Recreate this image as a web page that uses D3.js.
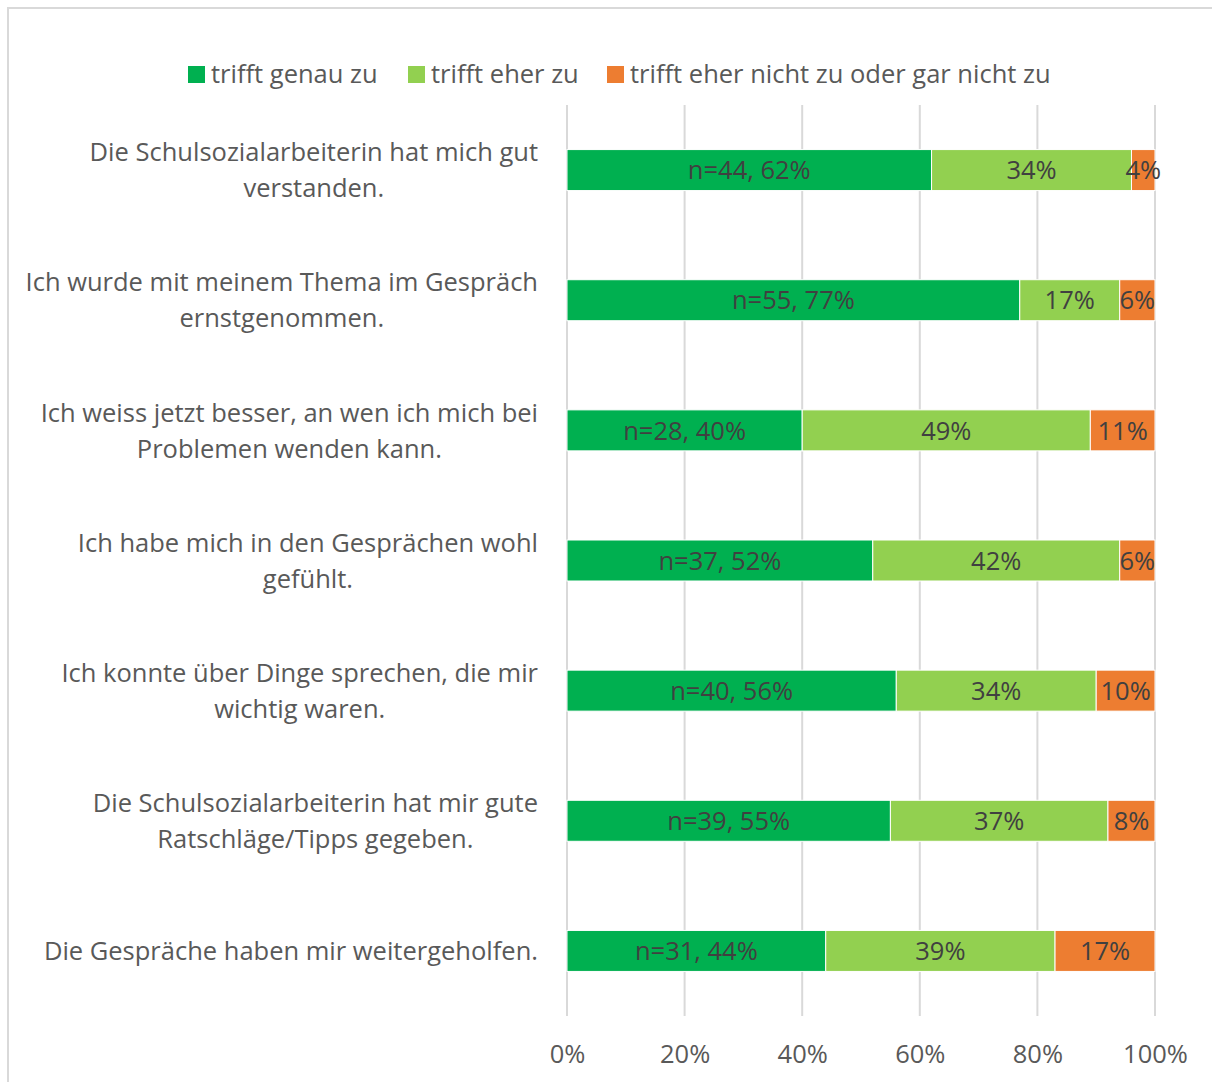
<!DOCTYPE html>
<html><head><meta charset="utf-8">
<script src="https://cdn.jsdelivr.net/npm/d3@7"></script>
<style>body{margin:0;background:#fff;}svg{display:block;font-family:"Open Sans",Lato,sans-serif;}</style>
</head><body>
<script>
const categories = [
  ["Die Schulsozialarbeiterin hat mich gut", "verstanden."],
  ["Ich wurde mit meinem Thema im Gespräch", "ernstgenommen."],
  ["Ich weiss jetzt besser, an wen ich mich bei", "Problemen wenden kann."],
  ["Ich habe mich in den Gesprächen wohl", "gefühlt."],
  ["Ich konnte über Dinge sprechen, die mir", "wichtig waren."],
  ["Die Schulsozialarbeiterin hat mir gute", "Ratschläge/Tipps gegeben."],
  ["Die Gespräche haben mir weitergeholfen."]
];
const counts = [44, 55, 28, 37, 40, 39, 31];
const genau = [62, 77, 40, 52, 56, 55, 44];
const eher = [34, 17, 49, 42, 34, 37, 39];
const nicht = [4, 6, 11, 6, 10, 8, 17];
const seriesNames = ["trifft genau zu", "trifft eher zu", "trifft eher nicht zu oder gar nicht zu"];
const colors = ["#00B050", "#92D050", "#ED7D31"];
const ticks = [0, 20, 40, 60, 80, 100];

const W = 1212, H = 1082;
const FS = 25.5;
const svg = d3.select("body").append("svg").attr("width", W).attr("height", H);
svg.append("rect").attr("x", 8).attr("y", 8).attr("width", W + 10).attr("height", H + 10)
  .attr("fill", "#fff").attr("stroke", "#d9d9d9").attr("stroke-width", 2);

const x = d3.scaleLinear().domain([0, 100]).range([567, 1155]);
const y = d3.scaleBand().domain(d3.range(categories.length)).range([105, 1016]).paddingInner(0.685).paddingOuter(0.3425);

// gridlines
svg.append("g").selectAll("line").data(ticks).join("line")
  .attr("x1", d => x(d)).attr("x2", d => x(d)).attr("y1", 105).attr("y2", 1016)
  .attr("stroke", "#d9d9d9").attr("stroke-width", 2);

// axis labels
const xAxis = d3.axisBottom(x).tickValues(ticks).tickFormat(d => d + "%").tickSize(0).tickPadding(0);
const ax = svg.append("g").attr("transform", "translate(0,1041)").call(xAxis);
ax.select(".domain").remove();
ax.selectAll("text").attr("font-size", FS).attr("fill", "#595959").attr("font-family", "'Open Sans', Lato, sans-serif").attr("dy", "0.85em");

// stacked data
const rows = categories.map((c, i) => ({i, v: [genau[i], eher[i], nicht[i]]}));
const g = svg.append("g");
rows.forEach(r => {
  let acc = 0;
  r.v.forEach((val, k) => {
    const x0 = acc, x1 = acc + val; acc = x1;
    g.append("rect").attr("x", x(x0)).attr("y", y(r.i)).attr("width", x(x1) - x(x0)).attr("height", y.bandwidth())
      .attr("fill", colors[k]).attr("stroke", "#fff").attr("stroke-width", 1);
    const label = k === 0 ? `n=${counts[r.i]}, ${val}%` : `${val}%`;
    g.append("text").attr("x", (x(x0) + x(x1)) / 2).attr("y", y(r.i) + y.bandwidth() / 2)
      .attr("dy", "0.36em").attr("text-anchor", "middle").attr("font-size", FS).attr("fill", "#404040").text(label);
  });
});

// category labels (centered block, right edge at 538)
categories.forEach((lines, i) => {
  const cy = y(i) + y.bandwidth() / 2;
  const t = svg.append("text").attr("text-anchor", "middle").attr("font-size", FS).attr("fill", "#595959");
  const spans = lines.map((ln, j) => {
    const off = (j - (lines.length - 1) / 2) * 36;
    return t.append("tspan").attr("y", cy + off).attr("dy", "0.36em").text(ln);
  });
  const maxW = d3.max(spans, s => s.node().getComputedTextLength());
  spans.forEach(s => s.attr("x", 538 - maxW / 2));
});

// legend
const legendX = [188, 408, 607];
seriesNames.forEach((n, k) => {
  svg.append("rect").attr("x", legendX[k]).attr("y", 66).attr("width", 17).attr("height", 17).attr("fill", colors[k]);
  svg.append("text").attr("x", legendX[k] + 23).attr("y", 74).attr("dy", "0.36em").attr("font-size", FS).attr("fill", "#595959").text(n);
});
</script>
</body></html>
